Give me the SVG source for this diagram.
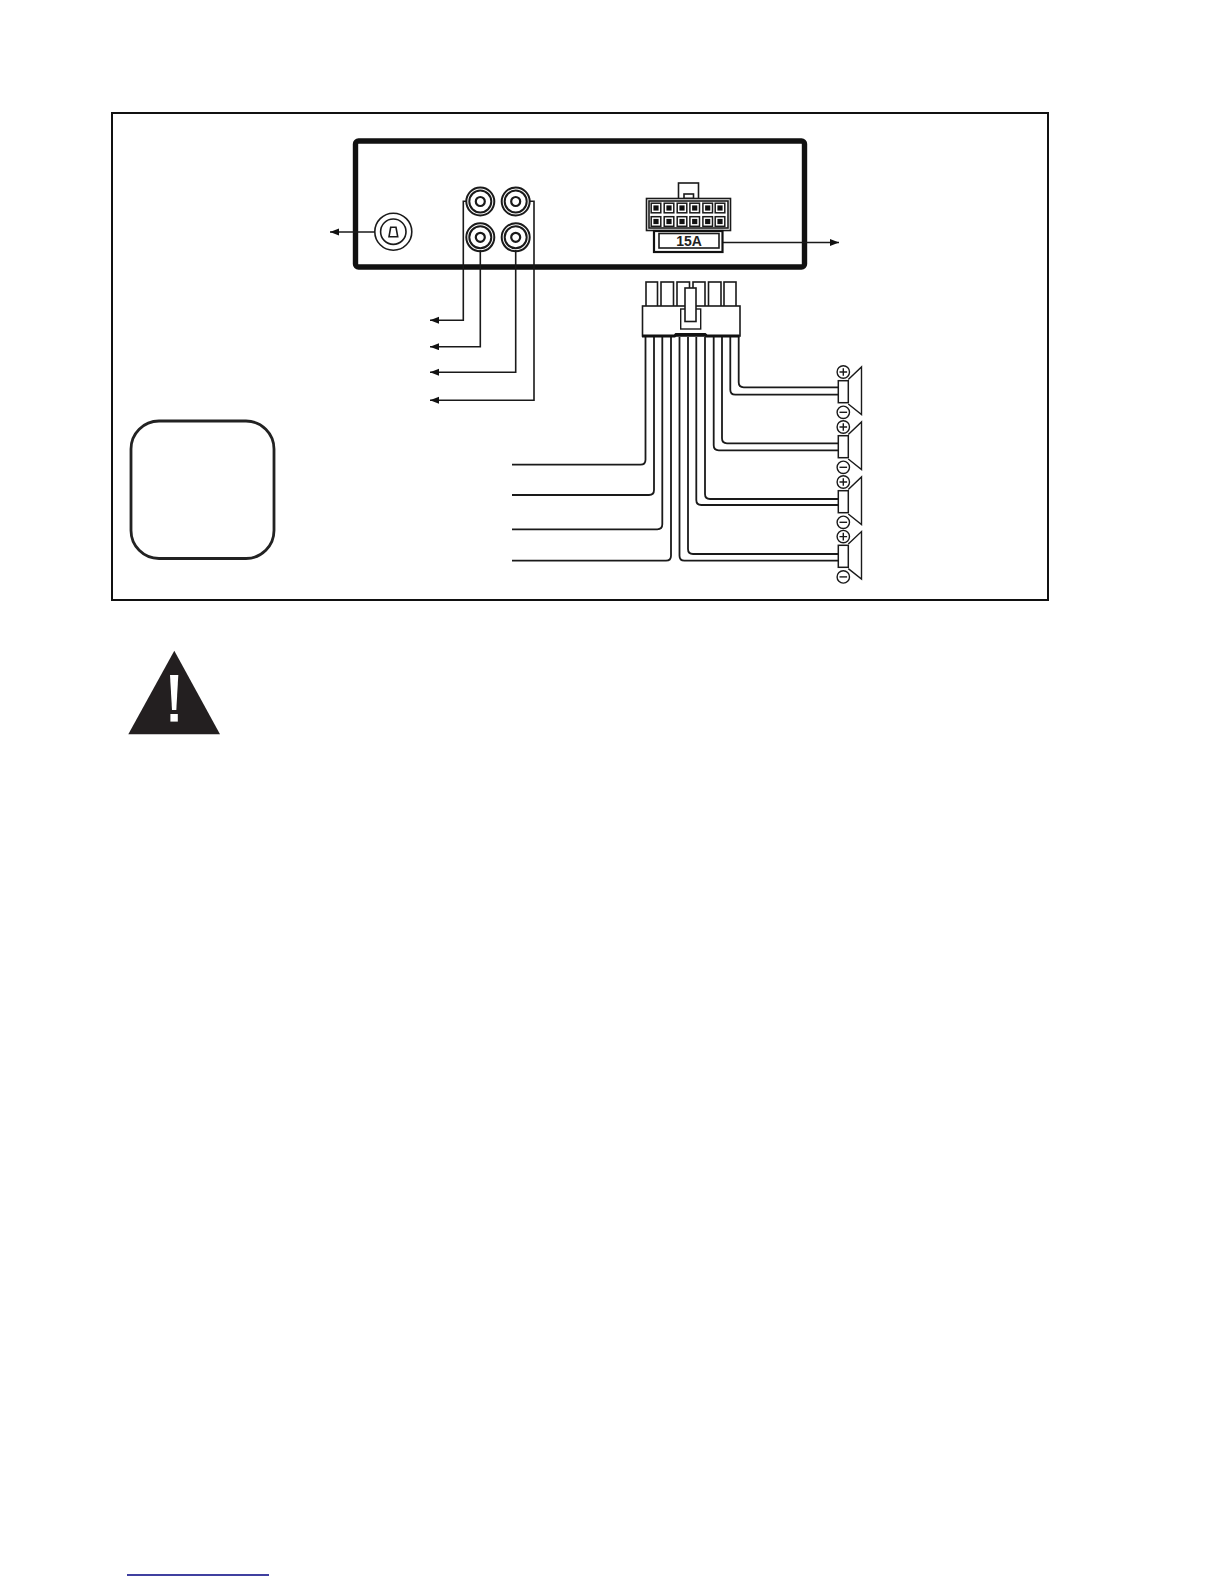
<svg xmlns="http://www.w3.org/2000/svg" width="1224" height="1584" viewBox="0 0 1224 1584">
<style>
.l{fill:none;stroke:#1a1a1a;stroke-width:1.6}
.r{fill:none;stroke:#1a1a1a;stroke-width:2}
.w{fill:none;stroke:#1a1a1a;stroke-width:1.8}
.a{fill:none;stroke:#1a1a1a;stroke-width:1.6;marker-end:url(#arr)}
.f{fill:#fff;stroke:#1a1a1a;stroke-width:1.6}
.k{fill:#111;stroke:none}
.s{fill:#fff;stroke:#1a1a1a;stroke-width:1.5}
.t{fill:none;stroke:#1a1a1a;stroke-width:1.4}
</style>
<defs>
<marker id="arr" markerUnits="userSpaceOnUse" markerWidth="10" markerHeight="8" refX="9" refY="3.5" orient="auto"><path d="M0 0L9 3.5L0 7Z" fill="#111"/></marker>
<g id="rca"><circle r="14" class="r"/><circle r="11" class="r"/><circle r="4.5" fill="#fff" stroke="#1a1a1a" stroke-width="2.2"/></g>
<g id="pin"><rect x="-4.8" y="-4.8" width="9.6" height="9.6" fill="#fff" stroke="#1a1a1a" stroke-width="1.5"/><rect x="-2.6" y="-2.6" width="5.2" height="5.2" class="k"/></g>
<g id="spk">
<path d="M848.3 379.5L861.5 367V414.5L848.3 404" class="t"/>
<rect x="838.3" y="380.7" width="10" height="22" class="s"/>
<circle cx="843.3" cy="372" r="6.2" class="t"/><path d="M839.5 372H847.1M843.3 368.2V375.8" class="t"/>
<circle cx="843.3" cy="412.3" r="6.2" class="t"/><path d="M839.5 412.3H847.1" class="t"/>
</g>
</defs>
<rect width="1224" height="1584" fill="#fff"/>
<rect id="frame" x="112" y="113" width="936" height="487" fill="none" stroke="#111" stroke-width="2"/>
<rect id="note-box" x="131" y="421" width="143" height="137.5" rx="28" fill="none" stroke="#222" stroke-width="2.8"/>
<rect id="head-unit" x="355.5" y="141" width="449" height="126" rx="3" fill="none" stroke="#111" stroke-width="5.4"/>
<g id="connectors">
<path class="a" d="M380 232H330"/>
<path class="a" d="M467 201.3H463.3V320.3H430"/>
<path class="a" d="M480.3 250V346.7H430"/>
<path class="a" d="M515.7 250V372.3H430"/>
<path class="a" d="M529 201.3H534V400.3H430"/>
<path class="a" d="M723 242.5H839"/>
<path class="w" d="M645.5 337V459.7Q645.5 464.7 640.5 464.7H512"/>
<path class="w" d="M654 337V490Q654 495 649 495H512"/>
<path class="w" d="M662.3 337V524.3Q662.3 529.3 657.3 529.3H512"/>
<path class="w" d="M671 337V555.7Q671 560.7 666 560.7H512"/>
<path class="w" d="M679.5 337V555.7Q679.5 560.7 684.5 560.7H838"/>
<path class="w" d="M688 337V549Q688 554 693 554H838"/>
<path class="w" d="M696.3 337V500Q696.3 505 701.3 505H838"/>
<path class="w" d="M705 337V494Q705 499 710 499H838"/>
<path class="w" d="M713.7 337V445.3Q713.7 450.3 718.7 450.3H838"/>
<path class="w" d="M722 337V438.3Q722 443.3 727 443.3H838"/>
<path class="w" d="M730.3 337V389.7Q730.3 394.7 735.3 394.7H838"/>
<path class="w" d="M738.7 337V382.3Q738.7 387.3 743.7 387.3H838"/>
</g>
<g id="antenna-jack">
<circle cx="393.3" cy="231.7" r="18.5" class="f"/>
<circle cx="393.3" cy="231.7" r="12.7" class="f"/>
<path d="M390.7 227.3H396L397.7 236.7H389Z" class="l"/>
</g>
<g id="rca-jacks">
<use href="#rca" x="480.3" y="201.5"/>
<use href="#rca" x="515.7" y="201.5"/>
<use href="#rca" x="480.3" y="237.3"/>
<use href="#rca" x="515.7" y="237.3"/>
</g>
<g id="socket">
<rect x="678.5" y="183" width="20" height="16" class="f"/>
<rect x="684" y="194" width="9.5" height="4.5" class="f"/>
<rect x="646.5" y="198.5" width="84" height="32" class="f"/>
<rect x="649" y="201" width="79" height="27" class="l"/>
<use href="#pin" x="656" y="208"/><use href="#pin" x="669" y="208"/><use href="#pin" x="682" y="208"/><use href="#pin" x="694.7" y="208"/><use href="#pin" x="707.7" y="208"/><use href="#pin" x="720" y="208"/>
<use href="#pin" x="656" y="221.5"/><use href="#pin" x="669" y="221.5"/><use href="#pin" x="682" y="221.5"/><use href="#pin" x="694.7" y="221.5"/><use href="#pin" x="707.7" y="221.5"/><use href="#pin" x="720" y="221.5"/>
<rect x="654" y="231" width="68.5" height="21" fill="#fff" stroke="#111" stroke-width="2.2"/>
<rect x="659" y="233.5" width="60" height="14.5" class="f"/>
<text x="689" y="246" text-anchor="middle" font-family="'Liberation Sans',Arial,sans-serif" font-size="14" font-weight="700" fill="#222">15A</text>
</g>
<g id="plug">
<rect x="646" y="282" width="11.5" height="25" class="f"/>
<rect x="661" y="282" width="12.5" height="25" class="f"/>
<rect x="677" y="282" width="12.5" height="25" class="f"/>
<rect x="693" y="282" width="12" height="25" class="f"/>
<rect x="708.5" y="282" width="12.5" height="25" class="f"/>
<rect x="724" y="282" width="12" height="25" class="f"/>
<rect x="642.5" y="306" width="97.5" height="30" class="f"/>
<path d="M642 336H674.5L676 334.6H705L706.7 336H739.5" fill="none" stroke="#111" stroke-width="3"/>
<rect x="680.7" y="309" width="20" height="20" fill="#fff" stroke="#1a1a1a" stroke-width="1.4"/>
<rect x="685" y="288" width="11" height="33.5" class="f"/>
</g>
<use id="speaker-1" href="#spk"/>
<use id="speaker-2" href="#spk" y="55"/>
<use id="speaker-3" href="#spk" y="110"/>
<use id="speaker-4" href="#spk" y="164.6"/>
<g id="warning">
<path d="M174.3 650.7L220 734.3H128.3Z" fill="#231f20"/>
<path d="M170 675H178.3L176.3 710H172Z" fill="#fff"/>
<rect x="170.4" y="714" width="7.4" height="7.6" fill="#fff"/>
</g>
<path id="footer-rule" d="M127 1575H269" stroke="#000080" stroke-width="1.5" fill="none"/>
</svg>
